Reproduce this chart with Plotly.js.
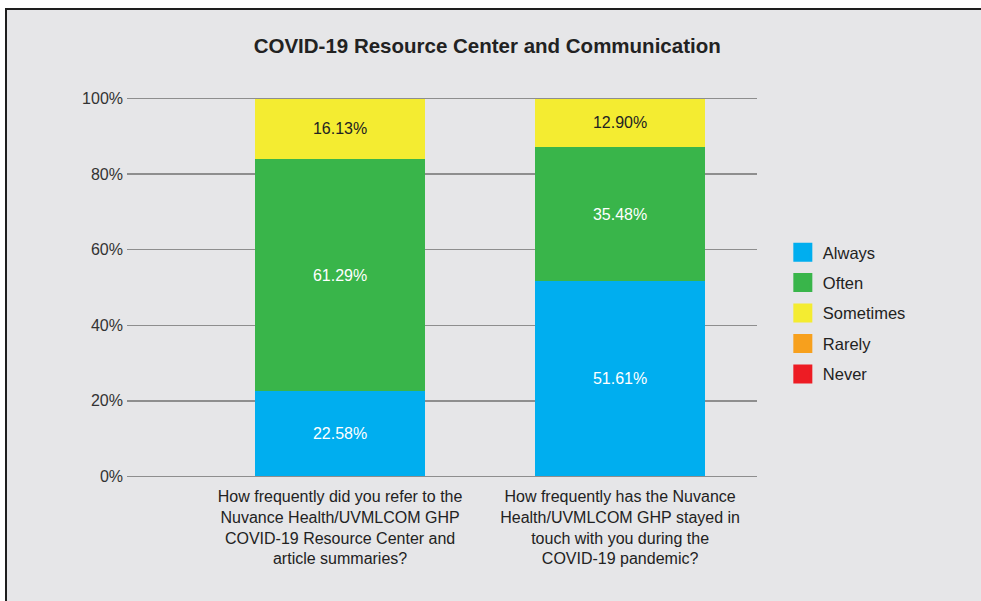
<!DOCTYPE html>
<html>
<head>
<meta charset="utf-8">
<script src="https://cdn.plot.ly/plotly-3.0.1.min.js"></script>
<style>
  html, body { margin: 0; padding: 0; background: #ffffff; }
  #wrap { position: absolute; left: 5px; top: 8px; border-left: 2px solid #1e1e1e; border-top: 2px solid #1e1e1e; background: #e6e6e8; }
  #chart { width: 974px; height: 591px; }
</style>
</head>
<body>
<div id="wrap"><div id="chart"></div></div>
<script>
const categories = [
  "How frequently did you refer to the<br>Nuvance Health/UVMLCOM GHP<br>COVID-19 Resource Center and<br>article summaries?",
  "How frequently has the Nuvance<br>Health/UVMLCOM GHP stayed in<br>touch with you during the<br>COVID-19 pandemic?"
];
const seriesNames = ["Always", "Often", "Sometimes", "Rarely", "Never"];
const always = [22.58, 51.61];
const often = [61.29, 35.48];
const sometimes = [16.13, 12.90];
const rarely = [0, 0];
const never = [0, 0];
const yTicks = [0, 20, 40, 60, 80, 100];

const seriesValues = [always, often, sometimes, rarely, never];
const colors = ["#00aeef", "#39b54a", "#f4ec31", "#f7a01d", "#ed1c24"];
const textColors = ["#ffffff", "#ffffff", "#222222", "#222222", "#ffffff"];
const FONT = "Arial, 'Liberation Sans', sans-serif";

const traces = [];
seriesNames.forEach((name, i) => {
  traces.push({
    type: "bar",
    name: name,
    x: categories,
    y: seriesValues[i],
    width: 0.607,
    marker: { color: colors[i], line: { width: 0 } },
    text: seriesValues[i].map(v => v > 0 ? v.toFixed(2) + "%" : ""),
    texttemplate: "%{text}",
    textposition: "inside",
    insidetextanchor: "middle",
    textangle: 0,
    constraintext: "none",
    insidetextfont: { family: FONT, size: 16, color: textColors[i] },
    showlegend: false,
    hoverinfo: "skip"
  });
});
seriesNames.forEach((name, i) => {
  traces.push({
    type: "scatter",
    mode: "markers",
    name: name,
    legendgroup: name,
    x: [null],
    y: [null],
    marker: { symbol: "square", size: 16, color: colors[i], line: { width: 3, color: colors[i] } },
    showlegend: true,
    hoverinfo: "skip"
  });
});

const layout = {
  width: 974,
  height: 591,
  paper_bgcolor: "#e6e6e8",
  plot_bgcolor: "#e6e6e8",
  barmode: "stack",
  bargap: 0,
  margin: { l: 120, r: 224, t: 87, b: 123 },
  font: { family: FONT, color: "#222222" },
  title: {
    text: "<b>COVID-19 Resource Center and Communication</b>",
    font: { family: FONT, size: 20.5, color: "#222222" },
    xref: "container", x: 0.493, xanchor: "center",
    yref: "container", y: 0.939, yanchor: "middle"
  },
  xaxis: {
    type: "category",
    range: [-0.761, 1.489],
    showgrid: false,
    zeroline: false,
    showline: false,
    ticks: "",
    ticklabelstandoff: 7,
    tickfont: { family: FONT, size: 16, color: "#222222" },
    fixedrange: true
  },
  yaxis: {
    range: [-0.4, 100.4],
    tickvals: yTicks,
    ticktext: yTicks.map(v => v + "%"),
    showgrid: true,
    gridcolor: "#8e8e8e",
    gridwidth: 1.5,
    zeroline: false,
    showline: false,
    ticks: "",
    ticklabelstandoff: 3,
    tickfont: { family: FONT, size: 16, color: "#333333" },
    fixedrange: true
  },
  legend: {
    x: 1.041, xanchor: "left",
    y: 0.638, yanchor: "top",
    traceorder: "grouped",
    tracegroupgap: 6,
    font: { family: FONT, size: 16.5, color: "#222222" },
    bgcolor: "rgba(0,0,0,0)"
  },
  hovermode: false
};

Plotly.newPlot("chart", traces, layout, { displayModeBar: false, staticPlot: true });
</script>
</body>
</html>
